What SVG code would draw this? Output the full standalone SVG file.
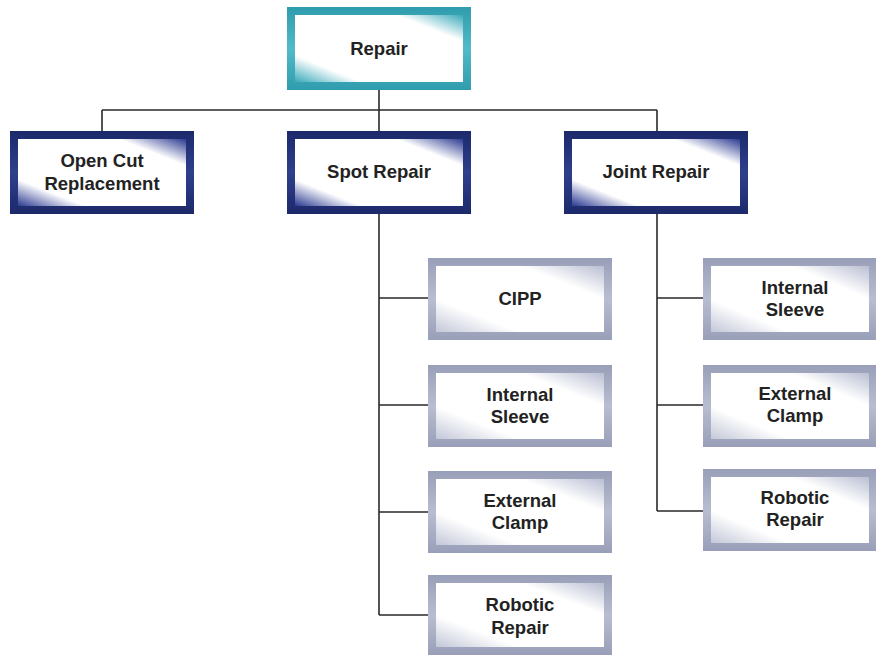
<svg xmlns="http://www.w3.org/2000/svg" width="876" height="655" viewBox="0 0 876 655">
  <defs>
    <!-- frame colours: darker at the outer edges, lighter in the middle of the band -->
    <linearGradient id="frameTeal" x1="0" y1="0" x2="0" y2="1">
      <stop offset="0" stop-color="#2f9cad"/>
      <stop offset="0.5" stop-color="#52bac8"/>
      <stop offset="1" stop-color="#2f9cad"/>
    </linearGradient>
    <linearGradient id="frameNavy" x1="0" y1="0" x2="0" y2="1">
      <stop offset="0" stop-color="#1c2a6b"/>
      <stop offset="0.5" stop-color="#2e3f8c"/>
      <stop offset="1" stop-color="#1c2a6b"/>
    </linearGradient>
    <linearGradient id="frameGray" x1="0" y1="0" x2="0" y2="1">
      <stop offset="0" stop-color="#999fb8"/>
      <stop offset="0.5" stop-color="#b8bdd0"/>
      <stop offset="1" stop-color="#999fb8"/>
    </linearGradient>
    <!-- inner panels: white with colour bleeding in at bottom-left and top-right -->
    <linearGradient id="fillTeal" x1="0" y1="1" x2="1" y2="0">
      <stop offset="0" stop-color="#3aa9b9"/>
      <stop offset="0.2" stop-color="#ffffff"/>
      <stop offset="0.8" stop-color="#ffffff"/>
      <stop offset="1" stop-color="#3aa9b9"/>
    </linearGradient>
    <linearGradient id="fillNavy" x1="0" y1="1" x2="1" y2="0">
      <stop offset="0" stop-color="#2a3990"/>
      <stop offset="0.2" stop-color="#ffffff"/>
      <stop offset="0.8" stop-color="#ffffff"/>
      <stop offset="1" stop-color="#2a3990"/>
    </linearGradient>
    <linearGradient id="fillGray" x1="0" y1="1" x2="1" y2="0">
      <stop offset="0" stop-color="#c3c7d8"/>
      <stop offset="0.25" stop-color="#ffffff"/>
      <stop offset="0.75" stop-color="#ffffff"/>
      <stop offset="1" stop-color="#b9bed2"/>
    </linearGradient>
  </defs>
  <style>
    .lbl { font-family: "Liberation Sans", Arial, sans-serif; font-weight: bold; font-size: 18.5px; fill: #222222; text-anchor: middle; }
    .wire { stroke: #2a2a2a; stroke-width: 1.6; fill: none; }
    .teal { fill: url(#frameTeal); }
    .navy { fill: url(#frameNavy); }
    .gray { fill: url(#frameGray); }
  </style>

  <rect width="876" height="655" fill="#ffffff"/>

  <!-- connectors -->
  <g id="connectors">
    <path class="wire" d="M379 90 V110 M102 110 H657 M102 110 V131 M379 110 V131 M657 110 V131"/>
    <path class="wire" d="M379 214 V615 M379 298 H428 M379 405 H428 M379 512 H428 M379 615 H428"/>
    <path class="wire" d="M657 214 V511 M657 298 H703 M657 405 H703 M657 511 H703"/>
  </g>

  <!-- root -->
  <g id="repair">
    <rect class="teal" x="287" y="7" width="184" height="83"/>
    <rect x="295" y="15" width="168" height="67" fill="url(#fillTeal)"/>
    <text class="lbl" x="379" y="54.5">Repair</text>
  </g>

  <!-- second level -->
  <g id="open-cut">
    <rect class="navy" x="10" y="131" width="184" height="83"/>
    <rect x="18" y="139" width="168" height="67" fill="url(#fillNavy)"/>
    <text class="lbl" x="102" y="167">Open Cut</text>
    <text class="lbl" x="102" y="190">Replacement</text>
  </g>
  <g id="spot-repair">
    <rect class="navy" x="287" y="131" width="184" height="83"/>
    <rect x="295" y="139" width="168" height="67" fill="url(#fillNavy)"/>
    <text class="lbl" x="379" y="177.5">Spot Repair</text>
  </g>
  <g id="joint-repair">
    <rect class="navy" x="564" y="131" width="184" height="83"/>
    <rect x="572" y="139" width="168" height="67" fill="url(#fillNavy)"/>
    <text class="lbl" x="656" y="177.5">Joint Repair</text>
  </g>

  <!-- spot repair methods -->
  <g id="spot-cipp">
    <rect class="gray" x="428" y="258" width="184" height="82"/>
    <rect x="436" y="266" width="168" height="66" fill="url(#fillGray)"/>
    <text class="lbl" x="520" y="305">CIPP</text>
  </g>
  <g id="spot-internal-sleeve">
    <rect class="gray" x="428" y="365" width="184" height="82"/>
    <rect x="436" y="373" width="168" height="66" fill="url(#fillGray)"/>
    <text class="lbl" x="520" y="400.5">Internal</text>
    <text class="lbl" x="520" y="423">Sleeve</text>
  </g>
  <g id="spot-external-clamp">
    <rect class="gray" x="428" y="471" width="184" height="82"/>
    <rect x="436" y="479" width="168" height="66" fill="url(#fillGray)"/>
    <text class="lbl" x="520" y="506.5">External</text>
    <text class="lbl" x="520" y="529">Clamp</text>
  </g>
  <g id="spot-robotic-repair">
    <rect class="gray" x="428" y="575" width="184" height="80"/>
    <rect x="436" y="583" width="168" height="64" fill="url(#fillGray)"/>
    <text class="lbl" x="520" y="611">Robotic</text>
    <text class="lbl" x="520" y="633.5">Repair</text>
  </g>

  <!-- joint repair methods -->
  <g id="joint-internal-sleeve">
    <rect class="gray" x="703" y="258" width="173" height="82"/>
    <rect x="711" y="266" width="158" height="66" fill="url(#fillGray)"/>
    <text class="lbl" x="795" y="293.5">Internal</text>
    <text class="lbl" x="795" y="316">Sleeve</text>
  </g>
  <g id="joint-external-clamp">
    <rect class="gray" x="703" y="365" width="173" height="82"/>
    <rect x="711" y="373" width="158" height="66" fill="url(#fillGray)"/>
    <text class="lbl" x="795" y="399.5">External</text>
    <text class="lbl" x="795" y="422">Clamp</text>
  </g>
  <g id="joint-robotic-repair">
    <rect class="gray" x="703" y="469" width="173" height="82"/>
    <rect x="711" y="477" width="158" height="66" fill="url(#fillGray)"/>
    <text class="lbl" x="795" y="503.5">Robotic</text>
    <text class="lbl" x="795" y="526">Repair</text>
  </g>
</svg>
